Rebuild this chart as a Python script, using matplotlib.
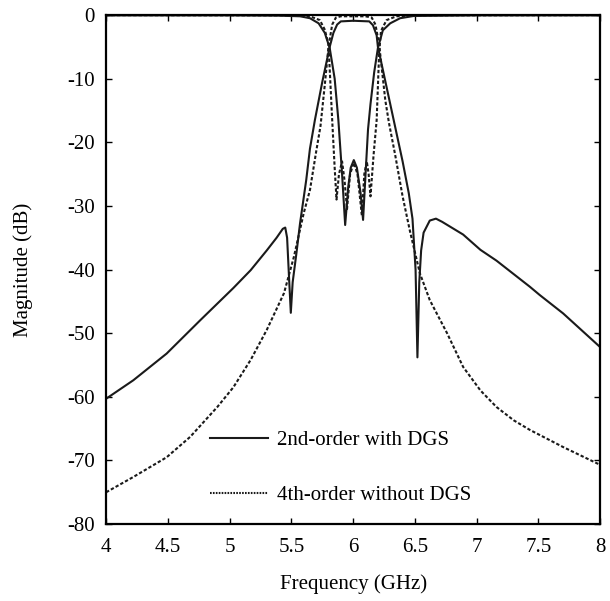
import matplotlib
matplotlib.use("Agg")
import matplotlib.pyplot as plt

plt.rcParams['font.family'] = ['Liberation Serif', 'DejaVu Serif']
plt.rcParams['axes.unicode_minus'] = False

# 2nd-order with DGS: transmission
f_s21_dgs = [4.00, 4.22, 4.49, 4.76, 5.03, 5.17, 5.30, 5.38, 5.43, 5.45, 5.465, 5.48,
             5.495, 5.51, 5.54, 5.57, 5.62, 5.65, 5.69, 5.75, 5.81, 5.84, 5.87, 5.90,
             6.00, 6.13, 6.16, 6.19, 6.20, 6.25, 6.30, 6.35, 6.40, 6.45, 6.48, 6.505,
             6.52, 6.535, 6.55, 6.57, 6.62, 6.67, 6.72, 6.89, 7.03, 7.16, 7.43, 7.51,
             7.70, 8.00]
s21_dgs = [-60.3, -57.4, -53.2, -48.0, -42.9, -40.1, -37.0, -35.0, -33.6, -33.4, -35.0, -41.0,
           -46.8, -42.0, -37.5, -32.7, -25.9, -21.0, -16.5, -10.5, -5.0, -2.8, -1.5, -1.0,
           -0.9, -1.0, -1.6, -3.2, -5.0, -9.5, -14.0, -18.5, -23.0, -28.0, -32.0, -40.0,
           -53.8, -42.0, -37.0, -34.2, -32.3, -32.0, -32.5, -34.5, -36.9, -38.6, -42.7, -44.0,
           -46.9, -52.2]

# 2nd-order with DGS: reflection
f_s11_dgs = [4.00, 5.00, 5.40, 5.57, 5.65, 5.72, 5.77, 5.81, 5.85, 5.88, 5.91, 5.935,
             5.96, 5.98, 6.005, 6.03, 6.06, 6.08, 6.10, 6.12, 6.14, 6.17, 6.20, 6.24,
             6.30, 6.38, 6.49, 7.00, 8.00]
s11_dgs = [-0.05, -0.05, -0.1, -0.2, -0.5, -1.3, -2.8, -5.2, -10.0, -16.5, -25.0, -33.0,
           -27.0, -24.0, -22.8, -24.0, -28.0, -32.2, -25.0, -18.0, -14.0, -9.0, -5.2, -2.4,
           -1.3, -0.5, -0.15, -0.05, -0.05]

# 4th-order without DGS: transmission
f_s21_4th = [4.00, 4.22, 4.49, 4.68, 4.90, 5.03, 5.17, 5.30, 5.44, 5.52, 5.60, 5.65,
             5.70, 5.735, 5.77, 5.80, 5.83, 5.86, 5.90, 6.10, 6.15, 6.18, 6.21, 6.26,
             6.29, 6.34, 6.40, 6.46, 6.54, 6.62, 6.76, 6.89, 7.03, 7.16, 7.30, 7.43,
             7.70, 8.00]
s21_4th = [-75.0, -72.6, -69.5, -66.3, -61.6, -58.5, -54.2, -49.5, -43.7, -38.0, -31.1, -27.5,
           -21.5, -17.5, -11.0, -5.0, -1.5, -0.4, -0.2, -0.2, -0.4, -1.5, -4.6, -13.4,
           -17.0, -22.0, -28.5, -34.0, -40.6, -44.8, -50.0, -55.3, -59.0, -61.6, -63.7, -65.2,
           -67.9, -70.7]

# 4th-order without DGS: reflection
f_s11_4th = [4.00, 5.40, 5.55, 5.65, 5.73, 5.77, 5.80, 5.83, 5.85, 5.865, 5.885, 5.91,
             5.93, 5.95, 5.975, 6.005, 6.035, 6.07, 6.09, 6.11, 6.125, 6.14, 6.165, 6.19,
             6.21, 6.225, 6.27, 6.35, 6.50, 8.00]
s11_4th = [-0.02, -0.05, -0.1, -0.2, -0.8, -2.3, -4.6, -16.5, -24.0, -29.0, -25.0, -23.0,
           -26.0, -30.5, -25.0, -23.2, -25.0, -31.5, -25.0, -23.0, -25.0, -28.5, -22.0, -16.5,
           -6.0, -2.5, -0.8, -0.2, -0.05, -0.02]

labels = ['2nd-order with DGS', '4th-order without DGS']
xticks = [4, 4.5, 5, 5.5, 6, 6.5, 7, 7.5, 8]
xticklabels = ['4', '4.5', '5', '5.5', '6', '6.5', '7', '7.5', '8']
yticks = [0, -10, -20, -30, -40, -50, -60, -70, -80]

fig = plt.figure(figsize=(6.1, 6.01), dpi=100)
ax = fig.add_axes([0.174, 0.128, 0.81, 0.847])

col = '#1a1a1a'
dot = (0, (1.6, 1.0))
ax.plot(f_s21_dgs, s21_dgs, color=col, lw=1.5, label=labels[0])
ax.plot(f_s11_dgs, s11_dgs, color=col, lw=1.5)
ax.plot(f_s21_4th, s21_4th, color=col, lw=1.5, ls=dot, label=labels[1])
ax.plot(f_s11_4th, s11_4th, color=col, lw=1.5, ls=dot)

ax.set_xlim(4, 8)
ax.set_ylim(-80, 0)
ax.set_xticks(xticks)
ax.set_xticklabels(xticklabels)
ax.set_yticks(yticks)
ax.tick_params(direction='in', length=4, width=1, labelsize=15, top=True, right=True)
ax.tick_params(axis='x', pad=10)
ax.tick_params(axis='y', pad=8)
for s in ax.spines.values():
    s.set_linewidth(1.6)

ax.set_xlabel('Frequency (GHz)', fontsize=15)
ax.set_ylabel('Magnitude (dB)', fontsize=15)
ax.xaxis.set_label_coords(0.5, -0.098)
ax.yaxis.set_label_coords(-0.148, 0.5)

leg = ax.legend(loc='upper left', bbox_to_anchor=(0.21, 0.183), frameon=False,
                fontsize=15, handlelength=2.8, handletextpad=0.43, labelspacing=1.68,
                borderpad=0, borderaxespad=0)
leg.get_lines()[1].set_linestyle((0, (0.8, 0.6)))

plt.savefig('out.png', dpi=100)
